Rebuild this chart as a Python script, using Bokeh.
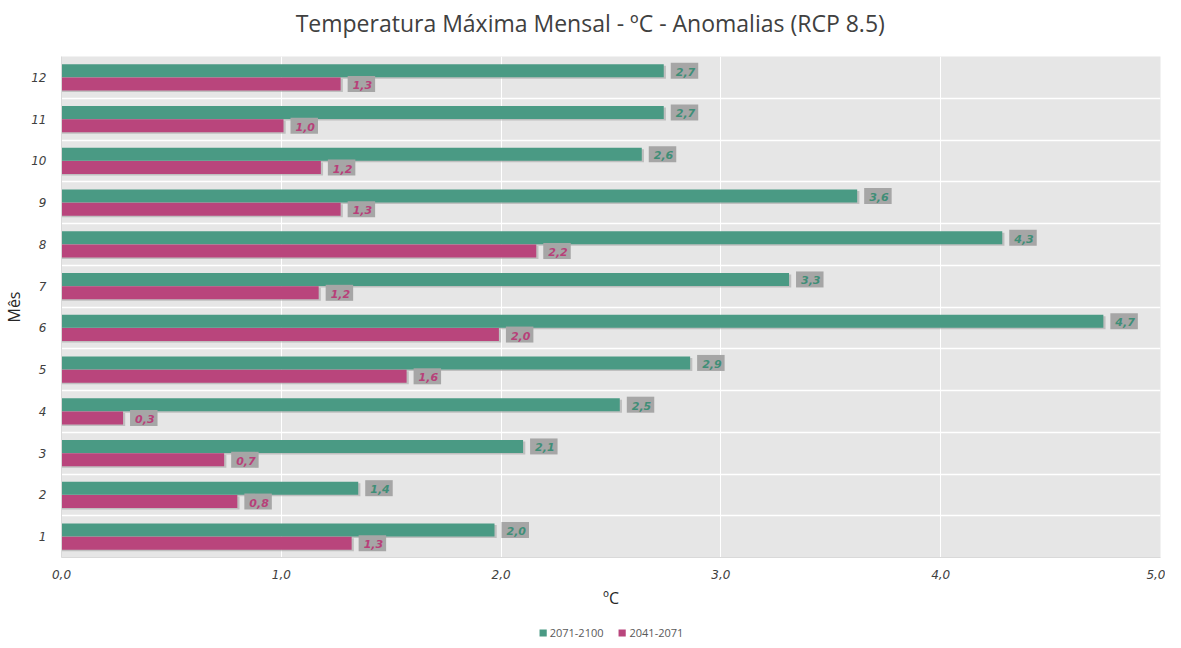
from bokeh.plotting import figure
from bokeh.layouts import column
from bokeh.models import ColumnDataSource, FixedTicker, Legend, LegendItem, Grid, Range1d
from bokeh.core.properties import value
from bokeh.embed import file_html
from bokeh.resources import INLINE

months = [1, 2, 3, 4, 5, 6, 7, 8, 9, 10, 11, 12]
month_labels = ["1", "2", "3", "4", "5", "6", "7", "8", "9", "10", "11", "12"]
s_2071_2100 = [1.97, 1.35, 2.10, 2.54, 2.86, 4.74, 3.31, 4.28, 3.62, 2.64, 2.74, 2.74]
s_2041_2071 = [1.32, 0.80, 0.74, 0.28, 1.57, 1.99, 1.17, 2.16, 1.27, 1.18, 1.01, 1.27]
series_names = ["2071-2100", "2041-2071"]
x_ticks = [0, 1, 2, 3, 4, 5]
x_tick_labels = ["0,0", "1,0", "2,0", "3,0", "4,0", "5,0"]
title_text = "Temperatura Máxima Mensal - ºC - Anomalias (RCP 8.5)"

GREEN = "#4a9a84"
MAGENTA = "#b9457c"
GREEN_TXT = "#3f8e77"
MAGENTA_TXT = "#b83f79"
FONT = "Open Sans"
TICKFONT = "DejaVu Sans"
W = 1165

def fmt(v):
    return f"{v:.1f}".replace(".", ",")

def strip(height):
    f = figure(width=W, height=height, output_backend="svg", toolbar_location=None,
               x_range=Range1d(0, W), y_range=Range1d(0, height),
               min_border=0, min_border_left=0, min_border_right=0,
               min_border_top=0, min_border_bottom=0)
    f.axis.visible = False
    f.grid.visible = False
    f.outline_line_color = None
    return f

# title strip
tf = strip(56)
tf.text(x=[W / 2 - 22], y=[56 - 22], text=[title_text], text_align="center",
        text_baseline="middle", text_font=value(FONT), text_font_size="23px",
        text_color="#404040")

off = 0.16
h = 0.31
src_g = ColumnDataSource(dict(y=[m + off for m in months], v=s_2071_2100,
                              lab=[fmt(v) for v in s_2071_2100]))
src_m = ColumnDataSource(dict(y=[m - off for m in months], v=s_2041_2071,
                              lab=[fmt(v) for v in s_2041_2071]))
sh_g = ColumnDataSource(dict(y=[m + off - 0.035 for m in months], v=[v + 0.01 for v in s_2071_2100]))
sh_m = ColumnDataSource(dict(y=[m - off - 0.035 for m in months], v=[v + 0.01 for v in s_2041_2071]))

p = figure(width=W, height=559, output_backend="svg", toolbar_location=None,
           x_range=Range1d(0, 5), y_range=Range1d(0.5, 12.5),
           min_border_left=56, min_border_right=5, min_border_top=0, min_border_bottom=58)

p.background_fill_color = "#e6e6e6"
p.border_fill_color = "white"
p.outline_line_color = None

for s in (sh_g, sh_m):
    p.hbar(y="y", left=0, right="v", height=h, source=s, fill_color="#9e9e9e",
           fill_alpha=0.55, line_color=None)
rg = p.hbar(y="y", left=0, right="v", height=h, source=src_g, fill_color=GREEN, line_color=None)
rm = p.hbar(y="y", left=0, right="v", height=h, source=src_m, fill_color=MAGENTA, line_color=None)

for src, col in ((src_g, GREEN_TXT), (src_m, MAGENTA_TXT)):
    p.text(x="v", y="y", text="lab", source=src, x_offset=7,
           text_align="left", text_baseline="middle",
           text_font=value(TICKFONT), text_font_size="11px", text_font_style="bold italic",
           text_color=col, background_fill_color="#a6a6a6", padding=[5, 3, 5, 3])

p.xaxis.ticker = FixedTicker(ticks=x_ticks)
p.xaxis.major_label_overrides = {t: l for t, l in zip(x_ticks, x_tick_labels)}
p.yaxis.ticker = FixedTicker(ticks=months)
p.yaxis.major_label_overrides = {m: l for m, l in zip(months, month_labels)}

for ax in (p.xaxis, p.yaxis):
    ax.major_label_text_font = TICKFONT
    ax.major_label_text_font_style = "italic"
    ax.major_label_text_font_size = "12px"
    ax.major_label_text_color = "#404040"
    ax.axis_line_color = "#d9d9d9"
    ax.major_tick_line_color = None
    ax.minor_tick_line_color = None
    ax.axis_label_text_font = FONT
    ax.axis_label_text_font_style = "normal"
    ax.axis_label_text_font_size = "16px"
    ax.axis_label_text_color = "#262626"

p.xaxis.axis_label = "ºC"
p.yaxis.axis_label = "Mês"
p.xaxis.major_label_standoff = 6
p.yaxis.major_label_standoff = 9
p.yaxis.axis_label_standoff = 3

p.xgrid.grid_line_color = "white"
p.xgrid.grid_line_width = 1
p.ygrid.grid_line_color = None
p.add_layout(Grid(dimension=1, ticker=FixedTicker(ticks=[m + 0.5 for m in months[:-1]]),
                  grid_line_color="white", grid_line_width=1.5))

# legend strip
lf = strip(25)
lg = lf.hbar(y=[-5], left=[-5], right=[-4], height=0.5, fill_color=GREEN, line_color=None)
lm = lf.hbar(y=[-5], left=[-5], right=[-4], height=0.5, fill_color=MAGENTA, line_color=None)
legend = Legend(items=[LegendItem(label=series_names[0], renderers=[lg]),
                       LegendItem(label=series_names[1], renderers=[lm])],
                orientation="horizontal", location="bottom_center",
                label_text_font=FONT, label_text_font_size="11px", label_text_color="#595959",
                glyph_width=9, glyph_height=9, label_standoff=3, spacing=14,
                label_height=12, border_line_color=None, background_fill_alpha=0,
                margin=0, padding=0)
lf.add_layout(legend, "center")

layout = column(tf, p, lf, spacing=0)
open("out.html", "w").write(file_html(layout, INLINE))
